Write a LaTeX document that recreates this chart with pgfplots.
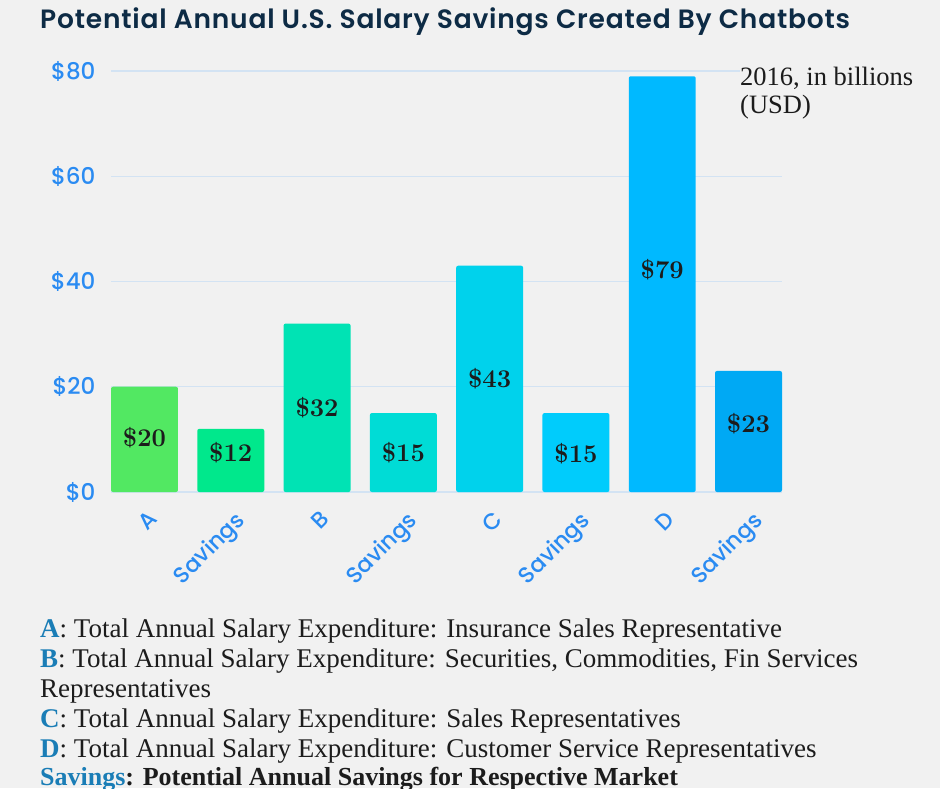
\documentclass[border=0pt]{standalone}
\usepackage{fontspec}
\usepackage{pgfplots}
\pgfplotsset{compat=1.18}
\newfontfamily\popm{Poppins Medium}
\newfontfamily\pops{Poppins SemiBold}[LetterSpace=3]
\newfontfamily\lib{Liberation Serif}
\definecolor{bg}{HTML}{F1F1F1}
\definecolor{titlec}{HTML}{0D2B45}
\definecolor{tickc}{HTML}{2A8BF2}
\definecolor{keyc}{HTML}{1A7DB6}
\definecolor{gridc}{HTML}{D3E3F3}
\definecolor{txt}{HTML}{1C1C1C}
\definecolor{c1}{HTML}{52E862}
\definecolor{c2}{HTML}{00E88C}
\definecolor{c3}{HTML}{00E3B4}
\definecolor{c4}{HTML}{00DCD6}
\definecolor{c5}{HTML}{00D2EC}
\definecolor{c6}{HTML}{00CCFC}
\definecolor{c7}{HTML}{00B9FF}
\definecolor{c8}{HTML}{00A9F4}
\begin{document}
\begin{tikzpicture}[x=1pt,y=1pt]
\path[use as bounding box, fill=bg] (0,0) rectangle (940,788);
\node[anchor=base west, inner sep=0, text=titlec, font=\pops\fontsize{26.5}{30}\selectfont] at (40,759) {Potential Annual U.S. Salary Savings Created By Chatbots};
\begin{axis}[
  at={(111pt,296pt)}, anchor=south west,
  scale only axis, width=671pt, height=421pt,
  xmin=-0.388, xmax=7.388, ymin=0, ymax=80,
  clip=false,
  axis line style={draw=none},
  major tick style={draw=none},
  ymajorgrids, grid style={gridc, line width=1.2pt},
  ytick={0,20,40,60,80},
  yticklabels={\$0,\$20,\$40,\$60,\$80},
  yticklabel style={font=\popm\fontsize{23}{23}\selectfont, text=tickc, anchor=east, xshift=-12pt},
  xtick={0,1,2,3,4,5,6,7},
  xticklabels={A,Savings,B,Savings,C,Savings,D,Savings},
  xticklabel style={font=\popm\fontsize{22.5}{23}\selectfont, text=tickc, rotate=45, anchor=north east, yshift=-11pt, xshift=-7pt},
]
\addplot[ybar, bar width=0.776, bar shift=0pt, fill=c1, draw=none, rounded corners=2pt] coordinates {(0,20)};
\addplot[ybar, bar width=0.776, bar shift=0pt, fill=c2, draw=none, rounded corners=2pt] coordinates {(1,12)};
\addplot[ybar, bar width=0.776, bar shift=0pt, fill=c3, draw=none, rounded corners=2pt] coordinates {(2,32)};
\addplot[ybar, bar width=0.776, bar shift=0pt, fill=c4, draw=none, rounded corners=2pt] coordinates {(3,15)};
\addplot[ybar, bar width=0.776, bar shift=0pt, fill=c5, draw=none, rounded corners=2pt] coordinates {(4,43)};
\addplot[ybar, bar width=0.776, bar shift=0pt, fill=c6, draw=none, rounded corners=2pt] coordinates {(5,15)};
\addplot[ybar, bar width=0.776, bar shift=0pt, fill=c7, draw=none, rounded corners=2pt] coordinates {(6,79)};
\addplot[ybar, bar width=0.776, bar shift=0pt, fill=c8, draw=none, rounded corners=2pt] coordinates {(7,23)};
\addplot[draw=none, mark=none, nodes near coords, point meta=explicit symbolic,
  every node near coord/.append style={anchor=center, font=\bfseries\fontsize{25.5}{25}\selectfont, text=txt}]
  coordinates {(0,10.26) [\$20] (1,7.4) [\$12] (2,16.0) [\$32] (3,7.4) [\$15] (4,21.5) [\$43] (5,7.2) [\$15] (6,42.2) [\$79] (7,12.9) [\$23]};
\end{axis}
\node[anchor=base west, inner sep=0, fill=bg, text=txt, font=\lib\fontsize{26.5}{28}\selectfont] at (740,702) {2016, in billions};
\node[anchor=base west, inner sep=0, text=txt, font=\lib\fontsize{26.5}{28}\selectfont] at (740,674) {(USD)};
\node[anchor=base west, inner sep=0, font=\lib\fontsize{27}{30}\selectfont, text=txt] at (40,151) {\textcolor{keyc}{\bfseries A}: Total Annual Salary Expenditure: Insurance Sales Representative};
\node[anchor=base west, inner sep=0, font=\lib\fontsize{27}{30}\selectfont, text=txt] at (40,121) {\textcolor{keyc}{\bfseries B}: Total Annual Salary Expenditure: Securities, Commodities, Fin Services};
\node[anchor=base west, inner sep=0, font=\lib\fontsize{27}{30}\selectfont, text=txt] at (40,91) {Representatives};
\node[anchor=base west, inner sep=0, font=\lib\fontsize{27}{30}\selectfont, text=txt] at (40,61) {\textcolor{keyc}{\bfseries C}: Total Annual Salary Expenditure: Sales Representatives};
\node[anchor=base west, inner sep=0, font=\lib\fontsize{27}{30}\selectfont, text=txt] at (40,31) {\textcolor{keyc}{\bfseries D}: Total Annual Salary Expenditure: Customer Service Representatives};
\node[anchor=base west, inner sep=0, font=\lib\bfseries\fontsize{26}{30}\selectfont, text=txt] at (40,3) {\textcolor{keyc}{Savings}: Potential Annual Savings for Respective Market};
\end{tikzpicture}
\end{document}
